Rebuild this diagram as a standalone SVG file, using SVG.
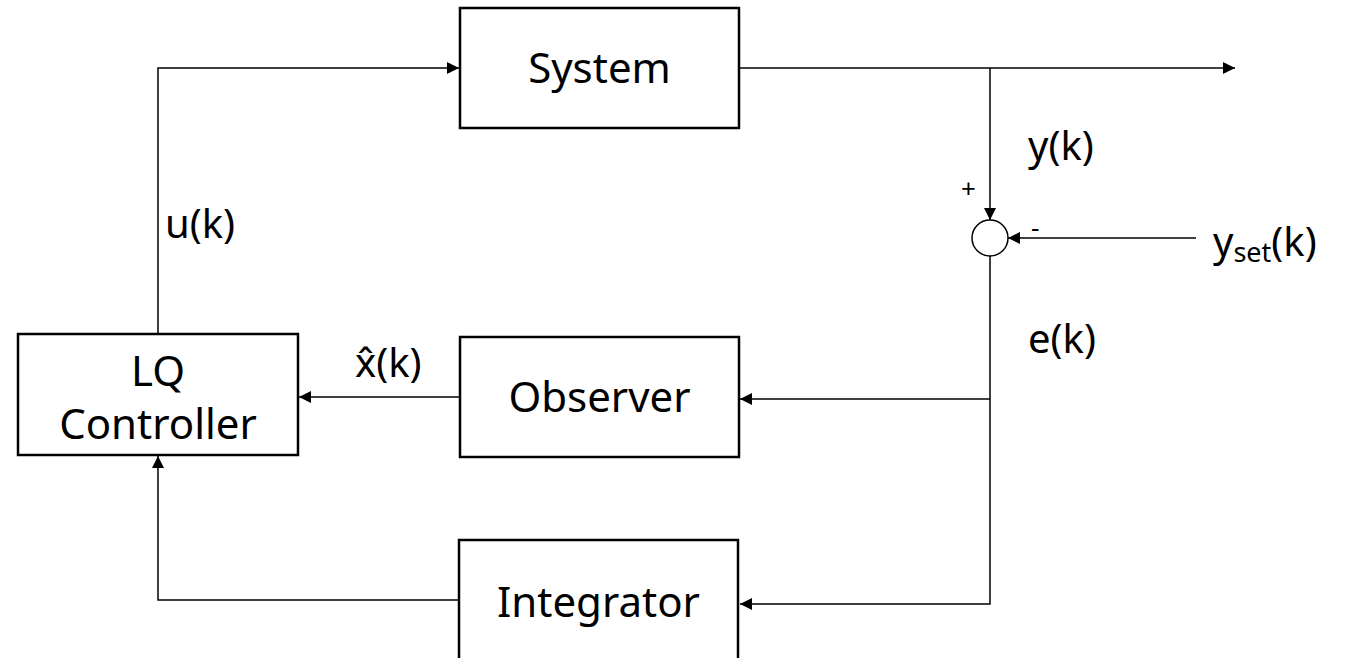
<svg xmlns="http://www.w3.org/2000/svg" width="1350" height="658" viewBox="0 0 1350 658">
<style>
.box{fill:#fff;stroke:#000;stroke-width:2.5}
.ln{fill:none;stroke:#000;stroke-width:1.5}
.t{font-family:"Noto Sans","Open Sans",sans-serif;font-size:42px;fill:#000;text-anchor:middle}
.l{font-family:"Noto Sans","Open Sans",sans-serif;font-size:40px;fill:#000}
.s{font-family:"Noto Sans","Open Sans",sans-serif;font-size:26px;fill:#000}
</style>
<defs>
<marker id="ah" viewBox="0 0 12 12" refX="12" refY="6" markerWidth="12" markerHeight="12" markerUnits="userSpaceOnUse" orient="auto">
<path d="M0,0 L12,6 L0,12 z" fill="#000"/>
</marker>
</defs>
<g id="connectors">
<path class="ln" d="M158,334 V68 H459" marker-end="url(#ah)"/>
<path class="ln" d="M739,68 H1235" marker-end="url(#ah)"/>
<path class="ln" d="M990,68 V220" marker-end="url(#ah)"/>
<path class="ln" d="M1196,238 H1008" marker-end="url(#ah)"/>
<path class="ln" d="M990,256 V604 H740" marker-end="url(#ah)"/>
<path class="ln" d="M990,399 H740" marker-end="url(#ah)"/>
<path class="ln" d="M459,397 H299" marker-end="url(#ah)"/>
<path class="ln" d="M459,600 H158 V456" marker-end="url(#ah)"/>
</g>
<g id="system"><rect class="box" x="460" y="8" width="279" height="120"/><text class="t" x="599.5" y="83">System</text></g>
<g id="lq"><rect class="box" x="18" y="334" width="280" height="121"/><text class="t" x="158" y="386">LQ</text><text class="t" x="158" y="439">Controller</text></g>
<g id="observer"><rect class="box" x="460" y="337" width="279" height="120"/><text class="t" x="599.5" y="412">Observer</text></g>
<g id="integrator"><rect class="box" x="459" y="540" width="279" height="130"/><text class="t" x="598.5" y="617">Integrator</text></g>
<g id="sum"><circle class="ln" cx="990" cy="238" r="18"/><text class="s" x="961" y="198">+</text><text class="s" x="1031" y="237">-</text></g>
<g id="labels">
<text class="l" x="1028" y="160">y(k)</text>
<text class="l" x="1028" y="353">e(k)</text>
<text class="l" x="165" y="238">u(k)</text>
<text class="l" x="355" y="377">x̂(k)</text>
<text class="l" x="1213" y="256">y<tspan font-size="27" dy="6">set</tspan><tspan dy="-6">(k)</tspan></text>
</g>
</svg>
